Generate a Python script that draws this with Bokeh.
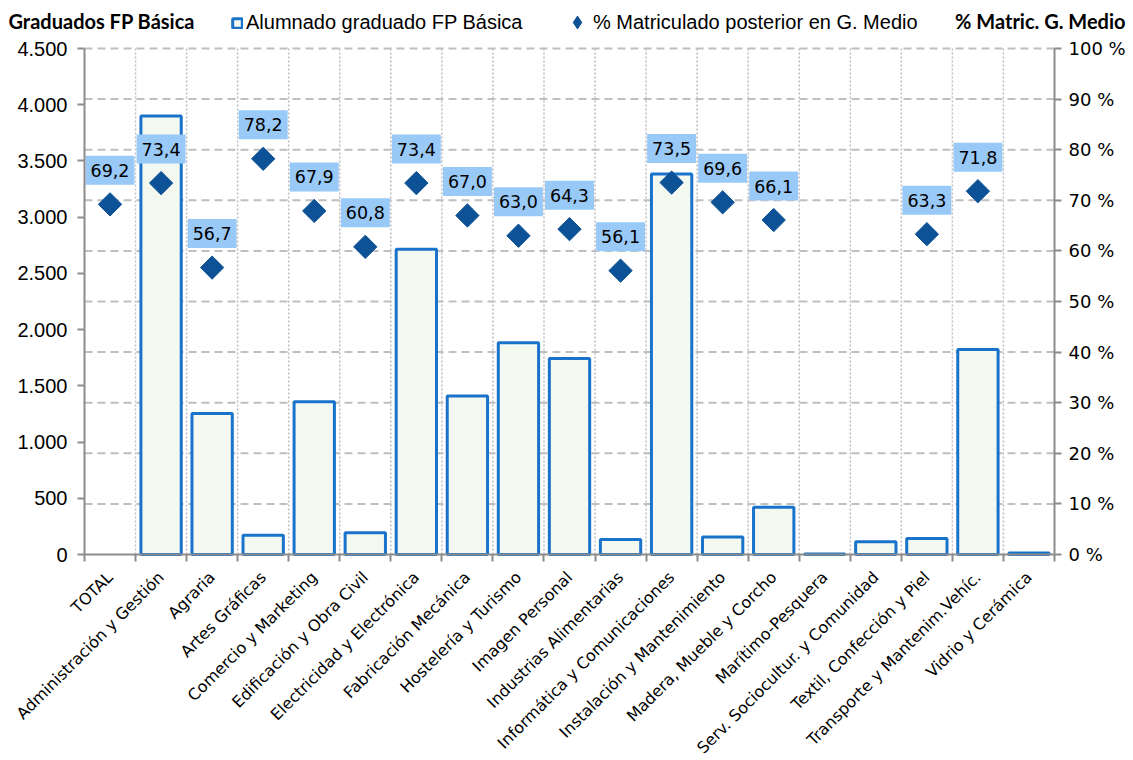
import numpy as np
from bokeh.plotting import figure
from bokeh.models import (Range1d, LinearAxis, FixedTicker, Legend, LegendItem,
                          Label, ColumnDataSource)
from bokeh.core.properties import value
from bokeh.embed import file_html
from bokeh.resources import INLINE

# ---------------- data ----------------
categories = [
    "TOTAL", "Administración y Gestión", "Agraria", "Artes Gráficas",
    "Comercio y Marketing", "Edificación y Obra Civil", "Electricidad y Electrónica",
    "Fabricación Mecánica", "Hostelería y Turismo", "Imagen Personal",
    "Industrias Alimentarias", "Informática y Comunicaciones",
    "Instalación y Mantenimiento", "Madera, Mueble y Corcho", "Marítimo-Pesquera",
    "Serv. Sociocultur. y Comunidad", "Textil, Confección y Piel",
    "Transporte y Mantenim.Vehíc.", "Vidrio y Cerámica",
]
graduados = [np.nan, 3900, 1255, 172, 1358, 193, 2715, 1409, 1883, 1743,
             133, 3383, 155, 421, 4, 113, 142, 1823, 14]
pct_matric = [69.2, 73.4, 56.7, 78.2, 67.9, 60.8, 73.4, 67.0, 63.0, 64.3,
              56.1, 73.5, 69.6, 66.1, np.nan, np.nan, 63.3, 71.8, np.nan]
left_ticks = [0, 500, 1000, 1500, 2000, 2500, 3000, 3500, 4000, 4500]
left_tick_labels = ["0", "500", "1.000", "1.500", "2.000", "2.500", "3.000",
                    "3.500", "4.000", "4.500"]
right_ticks = [0, 10, 20, 30, 40, 50, 60, 70, 80, 90, 100]
right_tick_labels = ["0 %", "10 %", "20 %", "30 %", "40 %", "50 %", "60 %",
                     "70 %", "80 %", "90 %", "100 %"]

# ---------------- styles / layout ----------------
BAR_FILL = "#F3F9F1"
BAR_LINE = "#1A73CB"
DIAMOND = "#0D5296"
LABEL_BG = "#99C9F7"
GRID = "#BFBFBF"
AXIS = "#8C8C8C"
LABEL_FONT = "DejaVu Sans"

W, H = 1133, 760
AX_L, AX_R, AX_T, AX_B = 84, 1054, 48, 554      # plotting area inside the canvas (px)
n = len(categories)
pos = list(range(n))
y_max, pct_max = left_ticks[-1], right_ticks[-1]

px_x = (AX_R - AX_L) / n
px_y = (AX_B - AX_T) / y_max
px_p = (AX_B - AX_T) / pct_max
x_rng = Range1d(-0.5 - AX_L / px_x, n - 0.5 + (W - AX_R) / px_x)
y_rng = Range1d(-(H - AX_B) / px_y, y_max + AX_T / px_y)
p_rng = Range1d(-(H - AX_B) / px_p, pct_max + AX_T / px_p)

p = figure(width=W, height=H, output_backend="svg", toolbar_location=None,
           x_range=x_rng, y_range=y_rng,
           min_border_left=0, min_border_right=0, min_border_top=0, min_border_bottom=0)
p.extra_y_ranges = {"pct": p_rng}
p.outline_line_color = None
p.background_fill_color = "white"
p.border_fill_color = "white"
p.xgrid.visible = False
p.ygrid.visible = False

# ---- x axis: labels at centres, ticks at category boundaries
xax = p.xaxis[0]
xax.fixed_location = 0
xax.bounds = (-0.5, n - 0.5)
xax.ticker = FixedTicker(ticks=pos, minor_ticks=[i - 0.5 for i in range(n + 1)])
xax.major_label_overrides = {i: c for i, c in zip(pos, categories)}
xax.major_label_orientation = np.pi / 4
xax.major_tick_out = 0
xax.major_tick_in = 0
xax.minor_tick_out = 7
xax.minor_tick_in = 0
xax.minor_tick_line_color = AXIS
xax.minor_tick_line_width = 2
xax.axis_line_color = AXIS
xax.axis_line_width = 2
xax.major_label_text_font = LABEL_FONT
xax.major_label_text_font_size = "16px"
xax.major_label_text_color = "black"
xax.major_label_standoff = 13

# ---- left axis
yax = p.yaxis[0]
yax.fixed_location = -0.5
yax.bounds = (0, y_max)
yax.ticker = FixedTicker(ticks=left_ticks)
yax.major_label_overrides = {t: s for t, s in zip(left_ticks, left_tick_labels)}
yax.major_tick_out = 7
yax.major_tick_in = 0
yax.minor_tick_out = 0
yax.minor_tick_in = 0
yax.major_tick_line_color = AXIS
yax.major_tick_line_width = 2
yax.axis_line_color = AXIS
yax.axis_line_width = 2
yax.major_label_text_font = "Liberation Sans"
yax.major_label_text_font_size = "20px"
yax.major_label_text_color = "black"
yax.major_label_standoff = 10

# ---- right axis
rax = LinearAxis(y_range_name="pct", ticker=FixedTicker(ticks=right_ticks),
                 fixed_location=n - 0.5, bounds=(0, pct_max),
                 major_label_overrides={t: s for t, s in zip(right_ticks, right_tick_labels)})
rax.major_tick_out = 7
rax.major_tick_in = 0
rax.minor_tick_out = 0
rax.minor_tick_in = 0
rax.major_tick_line_color = AXIS
rax.major_tick_line_width = 2
rax.axis_line_color = AXIS
rax.axis_line_width = 2
rax.major_label_text_font = LABEL_FONT
rax.major_label_text_font_size = "18px"
rax.major_label_text_color = "black"
rax.major_label_standoff = 7
p.add_layout(rax, "right")

# ---- grid lines (limited to the plotting area)
bounds_x = [i - 0.5 for i in range(1, n)]
p.segment(x0=bounds_x, y0=0, x1=bounds_x, y1=y_max, line_color=GRID,
          line_dash="2 2", line_width=1.5, level="underlay")
grid_pct = right_ticks[1:]
p.segment(x0=-0.5, y0=grid_pct, x1=n - 0.5, y1=grid_pct, y_range_name="pct",
          line_color=GRID, line_dash="8 5", line_width=2, level="underlay")

# ---- bars
bar_src = ColumnDataSource(dict(x=pos, top=graduados))
bars = p.vbar(x="x", top="top", bottom=0, width=0.79, source=bar_src,
              fill_color=BAR_FILL, line_color=BAR_LINE, line_width=3)

# ---- diamonds + labels
keep = [i for i in pos if not np.isnan(pct_matric[i])]
pt_src = ColumnDataSource(dict(
    x=[pos[i] for i in keep],
    y=[pct_matric[i] for i in keep],
    txt=[f"{pct_matric[i]:.1f}".replace(".", ",") for i in keep],
))
pts = p.scatter(x="x", y="y", source=pt_src, y_range_name="pct", marker="square",
                angle=np.pi / 4, size=16.5, fill_color=DIAMOND, line_color=DIAMOND)
p.text(x="x", y="y", text="txt", source=pt_src, y_range_name="pct",
       y_offset=-34, text_align="center", text_baseline="middle",
       text_font=value(LABEL_FONT), text_font_size="17.5px", text_color="black",
       background_fill_color=LABEL_BG, padding=(5, 8))

# legend proxy for the diamond symbol (a single undefined point: nothing drawn in the plot)
proxy = p.scatter(x=[np.nan], y=[np.nan], marker="diamond",
                  fill_color=DIAMOND, line_color=DIAMOND)

# ---- legends (header band)
leg_common = dict(orientation="horizontal", border_line_color=None,
                  background_fill_alpha=0, label_text_font="Liberation Sans",
                  label_text_font_size="20px", label_text_color="black",
                  padding=0, margin=0)
legend1 = Legend(items=[LegendItem(label="Alumnado graduado FP Básica", renderers=[bars])],
                 location=(231, H - 34), glyph_width=12, glyph_height=12,
                 label_standoff=3, **leg_common)
legend2 = Legend(items=[LegendItem(label="% Matriculado posterior en G. Medio",
                                   renderers=[proxy])],
                 location=(561, H - 38), glyph_width=32, glyph_height=32,
                 label_standoff=-5, **leg_common)
p.add_layout(legend1)
p.add_layout(legend2)

# ---- axis titles
p.add_layout(Label(x=8, y=H - 20, x_units="screen", y_units="screen",
                   text="Graduados FP Básica", text_font="Lato", text_font_style="bold",
                   text_font_size="20px", text_baseline="middle", text_align="left",
                   text_color="black"))
p.add_layout(Label(x=W - 8, y=H - 20, x_units="screen", y_units="screen",
                   text="% Matric. G. Medio", text_font="Lato", text_font_style="bold",
                   text_font_size="20px", text_baseline="middle", text_align="right",
                   text_color="black"))

open("out.html", "w").write(file_html(p, INLINE))
